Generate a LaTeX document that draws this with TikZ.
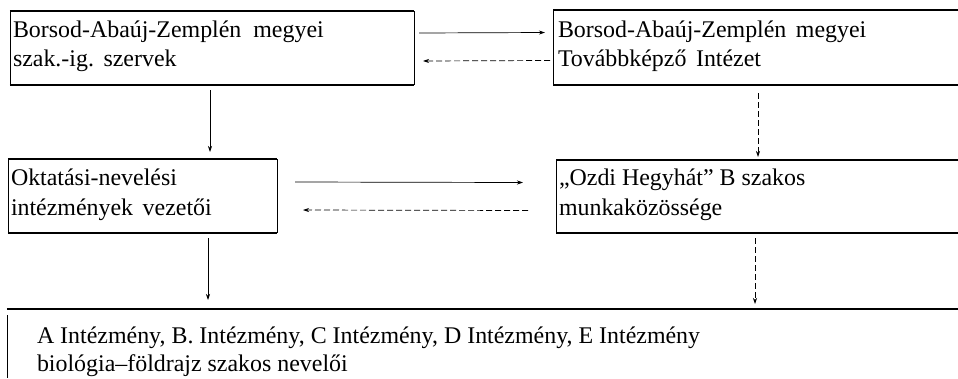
\documentclass[tikz,border=0pt]{standalone}
\usepackage{fontspec}
\setmainfont{Liberation Serif}
\usetikzlibrary{arrows.meta}
\begin{document}
\begin{tikzpicture}[x=1bp,y=-1bp,
  frame/.style={draw=none,inner sep=0pt,outer sep=0pt},
  hline/.style={line width=1.3bp},
  vline/.style={line width=0.8bp},
  txt/.style={anchor=base west,inner sep=0pt,outer sep=0pt,font=\fontsize{24}{29}\selectfont},
  arr/.style={line width=0.7bp,-{Stealth[length=6bp,width=4bp]}},
  darr/.style={arr,dash pattern=on 6bp off 3bp}]
\useasboundingbox (0,0) rectangle (958,378);
% boxes
\node[frame,minimum width=404bp,minimum height=74bp] (b1) at (212,48) {};
\node[frame,minimum width=405bp,minimum height=75bp] (b2) at (755.5,47.5) {};
\node[frame,minimum width=269bp,minimum height=74bp] (b3) at (142.5,196) {};
\node[frame,minimum width=402bp,minimum height=73bp] (b4) at (757,196.5) {};
\node[frame,minimum width=951bp,minimum height=69bp] (b5) at (482.5,343.5) {};
% box edges
\draw[hline] (b1.north west) -- (b1.north east);
\draw[hline] (b1.south west) -- (b1.south east);
\draw[vline] (b1.north west) -- (b1.south west);
\draw[vline] (b1.north east) -- (b1.south east);
\draw[hline] (b2.north west) -- (b2.north east);
\draw[hline] (b2.south west) -- (b2.south east);
\draw[vline] (b2.north west) -- (b2.south west);
\draw[hline] (b3.north west) -- (b3.north east);
\draw[hline] (b3.south west) -- (b3.south east);
\draw[vline] (b3.north west) -- (b3.south west);
\draw[vline] (b3.north east) -- (b3.south east);
\draw[hline] (b4.north west) -- (b4.north east);
\draw[hline] (b4.south west) -- (b4.south east);
\draw[vline] (b4.north west) -- (b4.south west);
\draw[hline] (b5.north west) -- (b5.north east);
\draw[vline] ([yshift=-6bp]b5.north west) -- (b5.south west);
% texts
\node[txt] (t1a) at (13,37) {Borsod-Abaúj-Zemplén\hspace{0.5em}megyei};
\node[txt] (t1b) at (13,66) {szak.-ig.\hspace{0.4em}szervek};
\node[txt] (t2a) at (558,37) {Borsod-Abaúj-Zemplén\hspace{0.4em}megyei};
\node[txt] (t2b) at (558,66) {Továbbképző\hspace{0.4em}Intézet};
\node[txt] (t3a) at (11,185) {Oktatási-nevelési};
\node[txt] (t3b) at (11,215) {intézmények\hspace{0.4em}vezetői};
\node[txt] (t4a) at (559,185) {„Ozdi Hegyhát” B szakos};
\node[txt] (t4b) at (559,215) {munkaközössége};
\node[txt] (t5a) at (37,343) {A Intézmény, B. Intézmény, C Intézmény, D Intézmény, E Intézmény};
\node[txt] (t5b) at (37,371) {biológia–földrajz szakos nevelői};
% horizontal connectors
\draw[arr] ([xshift=5bp,yshift=15bp]b1.east) -- ([xshift=-8bp,yshift=15bp]b2.west);
\draw[darr] ([xshift=-3bp,yshift=-13bp]b2.west) -- ([xshift=9bp,yshift=-13bp]b1.east);
\draw[arr] ([xshift=18bp,yshift=14bp]b3.east) -- ([xshift=-33bp,yshift=14bp]b4.west);
\draw[darr] ([xshift=-28bp,yshift=-14bp]b4.west) -- ([xshift=26bp,yshift=-14bp]b3.east);
% vertical connectors
\draw[arr] ([yshift=-5bp]b1.south -| 210,0) -- ([yshift=7bp]b3.north -| 210,0);
\draw[darr] ([yshift=-8bp]b2.south -| 758,0) -- ([yshift=3bp]b4.north -| 758,0);
\draw[arr] ([yshift=-5bp]b3.south -| 208,0) -- ([yshift=9bp]b5.north -| 208,0);
\draw[darr] ([yshift=-5bp]b4.south -| 755,0) -- ([yshift=5bp]b5.north -| 755,0);
\end{tikzpicture}
\end{document}
